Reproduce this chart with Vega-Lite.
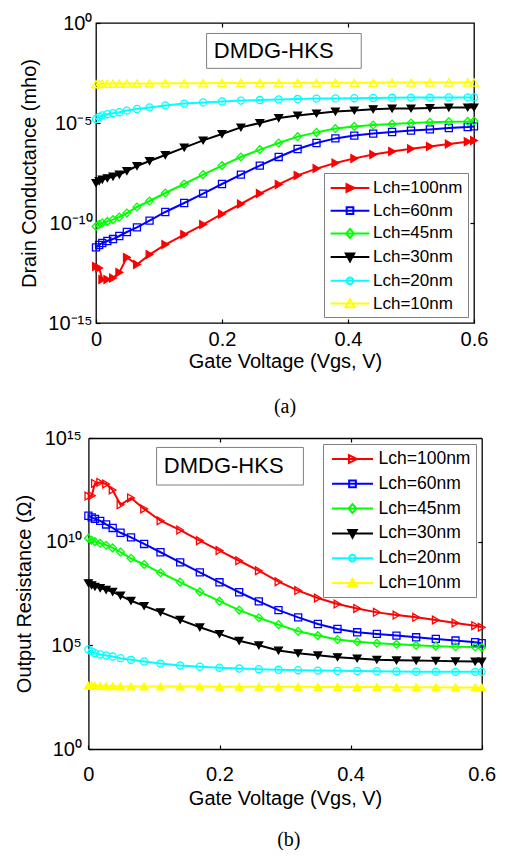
{
"$schema": "https://vega.github.io/schema/vega-lite/v6.json",
"background": "white",
"padding": {"left": 14, "top": 12, "right": 0, "bottom": 0},
"spacing": 10,
"columns": 1,
"align": "none",
"datasets": {
"boxes": [
{"p":"a","x1":0.1755,"x2":0.421,"y1":0.0054,"y2":0.30,"tx":0.187,"ty":0.0385,"label":"DMDG-HKS"},
{"p":"b","x1":0.104,"x2":0.328,"y1":5.4e12,"y2":3.5e14,"tx":0.115,"ty":4.5e13,"label":"DMDG-HKS"}
],
"curves": [
{"s":"Lch=100nm","x":0,"g":6.76e-13,"r":1.58e12},
{"s":"Lch=100nm","x":0.005,"g":5.62e-13,"r":1.66e12},
{"s":"Lch=100nm","x":0.01,"g":1.48e-13,"r":6.46e12},
{"s":"Lch=100nm","x":0.018,"g":1.48e-13,"r":7.24e12},
{"s":"Lch=100nm","x":0.027,"g":1.78e-13,"r":6.03e12},
{"s":"Lch=100nm","x":0.037,"g":3.39e-13,"r":3.09e12},
{"s":"Lch=100nm","x":0.049,"g":1.91e-12,"r":6.03e11},
{"s":"Lch=100nm","x":0.065,"g":8.32e-13,"r":1.29e12},
{"s":"Lch=100nm","x":0.085,"g":2.63e-12,"r":3.80e11},
{"s":"Lch=100nm","x":0.11,"g":8.32e-12,"r":1.02e11},
{"s":"Lch=100nm","x":0.14,"g":2.63e-11,"r":3.63e10},
{"s":"Lch=100nm","x":0.17,"g":8.32e-11,"r":1.12e10},
{"s":"Lch=100nm","x":0.2,"g":2.82e-10,"r":3.72e9},
{"s":"Lch=100nm","x":0.23,"g":8.91e-10,"r":1.20e9},
{"s":"Lch=100nm","x":0.26,"g":2.95e-9,"r":3.98e8},
{"s":"Lch=100nm","x":0.29,"g":8.51e-9,"r":1.17e8},
{"s":"Lch=100nm","x":0.32,"g":2.40e-8,"r":4.37e7},
{"s":"Lch=100nm","x":0.35,"g":5.25e-8,"r":1.91e7},
{"s":"Lch=100nm","x":0.38,"g":1e-7,"r":9.77e6},
{"s":"Lch=100nm","x":0.41,"g":1.70e-7,"r":6.03e6},
{"s":"Lch=100nm","x":0.44,"g":2.63e-7,"r":3.89e6},
{"s":"Lch=100nm","x":0.47,"g":3.80e-7,"r":2.88e6},
{"s":"Lch=100nm","x":0.5,"g":5.13e-7,"r":2.24e6},
{"s":"Lch=100nm","x":0.53,"g":6.76e-7,"r":1.66e6},
{"s":"Lch=100nm","x":0.56,"g":8.91e-7,"r":1.20e6},
{"s":"Lch=100nm","x":0.59,"g":1.17e-6,"r":8.91e5},
{"s":"Lch=100nm","x":0.6,"g":1.32e-6,"r":7.41e5},
{"s":"Lch=60nm","x":0,"g":6.03e-12,"r":1.78e11},
{"s":"Lch=60nm","x":0.005,"g":7.94e-12,"r":1.48e11},
{"s":"Lch=60nm","x":0.01,"g":1e-11,"r":1.26e11},
{"s":"Lch=60nm","x":0.018,"g":1.26e-11,"r":1.0e11},
{"s":"Lch=60nm","x":0.027,"g":1.58e-11,"r":6.76e10},
{"s":"Lch=60nm","x":0.037,"g":2.24e-11,"r":4.57e10},
{"s":"Lch=60nm","x":0.049,"g":3.55e-11,"r":2.69e10},
{"s":"Lch=60nm","x":0.065,"g":6.03e-11,"r":1.62e10},
{"s":"Lch=60nm","x":0.085,"g":1.32e-10,"r":7.76e9},
{"s":"Lch=60nm","x":0.11,"g":3.55e-10,"r":3.09e9},
{"s":"Lch=60nm","x":0.14,"g":1e-9,"r":1.0e9},
{"s":"Lch=60nm","x":0.17,"g":2.95e-9,"r":3.31e8},
{"s":"Lch=60nm","x":0.2,"g":8.91e-9,"r":1.10e8},
{"s":"Lch=60nm","x":0.23,"g":2.63e-8,"r":3.63e7},
{"s":"Lch=60nm","x":0.26,"g":7.41e-8,"r":1.32e7},
{"s":"Lch=60nm","x":0.29,"g":2.0e-7,"r":5.01e6},
{"s":"Lch=60nm","x":0.32,"g":5.01e-7,"r":2.24e6},
{"s":"Lch=60nm","x":0.35,"g":1e-6,"r":1.07e6},
{"s":"Lch=60nm","x":0.38,"g":1.70e-6,"r":6.17e5},
{"s":"Lch=60nm","x":0.41,"g":2.34e-6,"r":4.27e5},
{"s":"Lch=60nm","x":0.44,"g":2.95e-6,"r":3.55e5},
{"s":"Lch=60nm","x":0.47,"g":3.55e-6,"r":2.95e5},
{"s":"Lch=60nm","x":0.5,"g":4.17e-6,"r":2.45e5},
{"s":"Lch=60nm","x":0.53,"g":4.79e-6,"r":2.04e5},
{"s":"Lch=60nm","x":0.56,"g":5.62e-6,"r":1.70e5},
{"s":"Lch=60nm","x":0.59,"g":6.31e-6,"r":1.41e5},
{"s":"Lch=60nm","x":0.6,"g":6.76e-6,"r":1.26e5},
{"s":"Lch=45nm","x":0,"g":6.76e-11,"r":1.48e10},
{"s":"Lch=45nm","x":0.005,"g":8.51e-11,"r":1.17e10},
{"s":"Lch=45nm","x":0.01,"g":1e-10,"r":1e10},
{"s":"Lch=45nm","x":0.018,"g":1.20e-10,"r":8.32e9},
{"s":"Lch=45nm","x":0.027,"g":1.48e-10,"r":6.76e9},
{"s":"Lch=45nm","x":0.037,"g":2.0e-10,"r":5.01e9},
{"s":"Lch=45nm","x":0.049,"g":3.16e-10,"r":3.16e9},
{"s":"Lch=45nm","x":0.065,"g":6.31e-10,"r":1.58e9},
{"s":"Lch=45nm","x":0.085,"g":1.26e-9,"r":7.94e8},
{"s":"Lch=45nm","x":0.11,"g":3.16e-9,"r":3.16e8},
{"s":"Lch=45nm","x":0.14,"g":8.91e-9,"r":1.12e8},
{"s":"Lch=45nm","x":0.17,"g":2.63e-8,"r":3.80e7},
{"s":"Lch=45nm","x":0.2,"g":7.41e-8,"r":1.35e7},
{"s":"Lch=45nm","x":0.23,"g":2.0e-7,"r":5.01e6},
{"s":"Lch=45nm","x":0.26,"g":4.68e-7,"r":2.14e6},
{"s":"Lch=45nm","x":0.29,"g":1e-6,"r":1e6},
{"s":"Lch=45nm","x":0.32,"g":2.09e-6,"r":4.79e5},
{"s":"Lch=45nm","x":0.35,"g":3.39e-6,"r":2.95e5},
{"s":"Lch=45nm","x":0.38,"g":5.25e-6,"r":1.91e5},
{"s":"Lch=45nm","x":0.41,"g":6.76e-6,"r":1.48e5},
{"s":"Lch=45nm","x":0.44,"g":7.94e-6,"r":1.26e5},
{"s":"Lch=45nm","x":0.47,"g":8.91e-6,"r":1.12e5},
{"s":"Lch=45nm","x":0.5,"g":1e-5,"r":1e5},
{"s":"Lch=45nm","x":0.53,"g":1.10e-5,"r":9.12e4},
{"s":"Lch=45nm","x":0.56,"g":1.17e-5,"r":8.51e4},
{"s":"Lch=45nm","x":0.59,"g":1.20e-5,"r":8.32e4},
{"s":"Lch=45nm","x":0.6,"g":1.26e-5,"r":7.94e4},
{"s":"Lch=30nm","x":0,"g":1e-8,"r":1e8},
{"s":"Lch=30nm","x":0.005,"g":1.26e-8,"r":7.94e7},
{"s":"Lch=30nm","x":0.01,"g":1.48e-8,"r":6.76e7},
{"s":"Lch=30nm","x":0.018,"g":1.74e-8,"r":5.75e7},
{"s":"Lch=30nm","x":0.027,"g":2.09e-8,"r":4.79e7},
{"s":"Lch=30nm","x":0.037,"g":2.63e-8,"r":3.80e7},
{"s":"Lch=30nm","x":0.049,"g":3.98e-8,"r":2.51e7},
{"s":"Lch=30nm","x":0.065,"g":7.08e-8,"r":1.41e7},
{"s":"Lch=30nm","x":0.085,"g":1.26e-7,"r":7.94e6},
{"s":"Lch=30nm","x":0.11,"g":2.51e-7,"r":3.98e6},
{"s":"Lch=30nm","x":0.14,"g":5.89e-7,"r":1.70e6},
{"s":"Lch=30nm","x":0.17,"g":1.35e-6,"r":7.41e5},
{"s":"Lch=30nm","x":0.2,"g":2.82e-6,"r":3.55e5},
{"s":"Lch=30nm","x":0.23,"g":6.03e-6,"r":1.66e5},
{"s":"Lch=30nm","x":0.26,"g":1e-5,"r":1e5},
{"s":"Lch=30nm","x":0.29,"g":1.78e-5,"r":5.62e4},
{"s":"Lch=30nm","x":0.32,"g":2.40e-5,"r":4.17e4},
{"s":"Lch=30nm","x":0.35,"g":3.02e-5,"r":3.31e4},
{"s":"Lch=30nm","x":0.38,"g":3.72e-5,"r":2.69e4},
{"s":"Lch=30nm","x":0.41,"g":4.27e-5,"r":2.34e4},
{"s":"Lch=30nm","x":0.44,"g":4.90e-5,"r":2.04e4},
{"s":"Lch=30nm","x":0.47,"g":5.25e-5,"r":1.91e4},
{"s":"Lch=30nm","x":0.5,"g":5.37e-5,"r":1.86e4},
{"s":"Lch=30nm","x":0.53,"g":5.62e-5,"r":1.78e4},
{"s":"Lch=30nm","x":0.56,"g":5.89e-5,"r":1.70e4},
{"s":"Lch=30nm","x":0.59,"g":6.03e-5,"r":1.66e4},
{"s":"Lch=30nm","x":0.6,"g":6.03e-5,"r":1.66e4},
{"s":"Lch=20nm","x":0,"g":1.58e-5,"r":6.31e4},
{"s":"Lch=20nm","x":0.005,"g":2.0e-5,"r":5.01e4},
{"s":"Lch=20nm","x":0.01,"g":2.40e-5,"r":4.17e4},
{"s":"Lch=20nm","x":0.018,"g":2.75e-5,"r":3.63e4},
{"s":"Lch=20nm","x":0.027,"g":3.09e-5,"r":3.24e4},
{"s":"Lch=20nm","x":0.037,"g":3.47e-5,"r":2.88e4},
{"s":"Lch=20nm","x":0.049,"g":4.17e-5,"r":2.40e4},
{"s":"Lch=20nm","x":0.065,"g":5.01e-5,"r":2.0e4},
{"s":"Lch=20nm","x":0.085,"g":6.03e-5,"r":1.66e4},
{"s":"Lch=20nm","x":0.11,"g":7.59e-5,"r":1.32e4},
{"s":"Lch=20nm","x":0.14,"g":9.33e-5,"r":1.07e4},
{"s":"Lch=20nm","x":0.17,"g":1.07e-4,"r":9.33e3},
{"s":"Lch=20nm","x":0.2,"g":1.20e-4,"r":8.32e3},
{"s":"Lch=20nm","x":0.23,"g":1.32e-4,"r":7.59e3},
{"s":"Lch=20nm","x":0.26,"g":1.41e-4,"r":7.08e3},
{"s":"Lch=20nm","x":0.29,"g":1.51e-4,"r":6.61e3},
{"s":"Lch=20nm","x":0.32,"g":1.58e-4,"r":6.31e3},
{"s":"Lch=20nm","x":0.35,"g":1.66e-4,"r":6.03e3},
{"s":"Lch=20nm","x":0.38,"g":1.70e-4,"r":5.89e3},
{"s":"Lch=20nm","x":0.41,"g":1.74e-4,"r":5.75e3},
{"s":"Lch=20nm","x":0.44,"g":1.78e-4,"r":5.62e3},
{"s":"Lch=20nm","x":0.47,"g":1.82e-4,"r":5.50e3},
{"s":"Lch=20nm","x":0.5,"g":1.86e-4,"r":5.37e3},
{"s":"Lch=20nm","x":0.53,"g":1.86e-4,"r":5.37e3},
{"s":"Lch=20nm","x":0.56,"g":1.91e-4,"r":5.25e3},
{"s":"Lch=20nm","x":0.59,"g":1.91e-4,"r":5.25e3},
{"s":"Lch=20nm","x":0.6,"g":1.91e-4,"r":5.25e3},
{"s":"Lch=10nm","x":0,"g":8.71e-4,"r":1148},
{"s":"Lch=10nm","x":0.005,"g":8.91e-4,"r":1122},
{"s":"Lch=10nm","x":0.01,"g":9.12e-4,"r":1096},
{"s":"Lch=10nm","x":0.018,"g":9.12e-4,"r":1096},
{"s":"Lch=10nm","x":0.027,"g":9.33e-4,"r":1072},
{"s":"Lch=10nm","x":0.037,"g":9.33e-4,"r":1072},
{"s":"Lch=10nm","x":0.049,"g":9.55e-4,"r":1047},
{"s":"Lch=10nm","x":0.065,"g":9.55e-4,"r":1047},
{"s":"Lch=10nm","x":0.085,"g":9.55e-4,"r":1047},
{"s":"Lch=10nm","x":0.11,"g":9.77e-4,"r":1023},
{"s":"Lch=10nm","x":0.14,"g":9.77e-4,"r":1023},
{"s":"Lch=10nm","x":0.17,"g":9.77e-4,"r":1023},
{"s":"Lch=10nm","x":0.2,"g":1e-3,"r":1000},
{"s":"Lch=10nm","x":0.23,"g":1e-3,"r":1000},
{"s":"Lch=10nm","x":0.26,"g":1e-3,"r":1000},
{"s":"Lch=10nm","x":0.29,"g":1e-3,"r":1000},
{"s":"Lch=10nm","x":0.32,"g":1e-3,"r":1000},
{"s":"Lch=10nm","x":0.35,"g":1.02e-3,"r":977},
{"s":"Lch=10nm","x":0.38,"g":1.02e-3,"r":977},
{"s":"Lch=10nm","x":0.41,"g":1.02e-3,"r":977},
{"s":"Lch=10nm","x":0.44,"g":1.02e-3,"r":977},
{"s":"Lch=10nm","x":0.47,"g":1.05e-3,"r":955},
{"s":"Lch=10nm","x":0.5,"g":1.05e-3,"r":955},
{"s":"Lch=10nm","x":0.53,"g":1.05e-3,"r":955},
{"s":"Lch=10nm","x":0.56,"g":1.07e-3,"r":933},
{"s":"Lch=10nm","x":0.59,"g":1.07e-3,"r":933},
{"s":"Lch=10nm","x":0.6,"g":1.07e-3,"r":933}
]
},
"resolve": {"scale": {"x": "independent", "y": "independent", "color": "independent"}, "legend": {"color": "independent"}},
"concat": [
{
"width": 378, "height": 300,
"title": {"text": "(a)", "orient": "bottom", "font": "Liberation Serif", "fontSize": 20, "fontWeight": "normal", "color": "black", "offset": 26},
"resolve": {"axis": {"x": "independent", "y": "independent"}},
"layer": [
{"data": {"name": "boxes"}, "transform": [{"filter": "datum.p == 'a'"}],
 "mark": {"type": "rect", "fill": "white", "stroke": "#808080", "strokeWidth": 1},
 "encoding": {
  "x": {"field": "x1", "type": "quantitative", "scale": {"domain": [0, 0.6], "nice": false, "zero": false}, "axis": null},
  "x2": {"field": "x2"},
  "y": {"field": "y1", "type": "quantitative", "scale": {"type": "log", "domain": [1e-15, 1], "nice": false}, "axis": null},
  "y2": {"field": "y2"}}},
{"data": {"name": "boxes"}, "transform": [{"filter": "datum.p == 'a'"}],
 "mark": {"type": "text", "align": "left", "baseline": "middle", "font": "Liberation Sans", "fontSize": 22, "color": "black"},
 "encoding": {
  "x": {"field": "tx", "type": "quantitative", "scale": {"domain": [0, 0.6], "nice": false, "zero": false}, "axis": null},
  "y": {"field": "ty", "type": "quantitative", "scale": {"type": "log", "domain": [1e-15, 1], "nice": false}, "axis": null},
  "text": {"field": "label"}}},
{"data": {"name": "curves"},
 "mark": {"type": "line", "strokeWidth": 2},
 "encoding": {
  "x": {"field": "x", "type": "quantitative", "scale": {"domain": [0, 0.6], "nice": false, "zero": false},
        "axis": {"title": "Gate Voltage (Vgs, V)", "values": [0, 0.2, 0.4, 0.6], "format": ".1~f", "labelFlush": false, "domain": false, "tickSize": -4, "labelPadding": 10, "titlePadding": 2}},
  "y": {"field": "g", "type": "quantitative", "scale": {"type": "log", "domain": [1e-15, 1], "nice": false},
        "axis": {"title": "Drain Conductance (mho)", "values": [1e-15, 1e-10, 1e-5, 1], "labelExpr": "datum.value >= 0.5 ? '10⁰' : datum.value >= 1e-6 ? '10⁻⁵' : datum.value >= 1e-11 ? '10⁻¹⁰' : '10⁻¹⁵'", "domain": false, "tickSize": -4, "labelPadding": 8, "titlePadding": 8}},
  "color": {"field": "s", "type": "nominal",
   "scale": {"domain": ["Lch=100nm", "Lch=60nm", "Lch=45nm", "Lch=30nm", "Lch=20nm", "Lch=10nm"], "range": ["#ff0000", "#0000ff", "#00ff00", "#000000", "#00ffff", "#ffff00"]},
   "legend": {"title": null, "orient": "bottom-right", "offset": 6, "padding": 5, "strokeColor": "#808080", "fillColor": "white",
     "labelFont": "Liberation Sans", "labelFontSize": 17, "labelColor": "black", "symbolSize": 324, "symbolStrokeWidth": 2, "symbolOffset": 11, "labelOffset": 13, "rowPadding": 4.7,
     "encode": {"symbols": {"update": {
       "shape": {"signal": "datum.value === 'Lch=100nm' ? 'M-2.15,0L2.15,0M-0.39,-0.44L0.5,0L-0.39,0.44Z' : datum.value === 'Lch=60nm' ? 'M-2.15,0L2.15,0M-0.37,-0.37L0.37,-0.37L0.37,0.37L-0.37,0.37Z' : datum.value === 'Lch=45nm' ? 'M-2.15,0L2.15,0M0,-0.5L0.44,0L0,0.5L-0.44,0Z' : datum.value === 'Lch=30nm' ? 'M-2.15,0L2.15,0M-0.47,-0.39L0.47,-0.39L0,0.47Z' : datum.value === 'Lch=20nm' ? 'M-2.15,0L2.15,0M0.37,0A0.37,0.37,0,1,1,-0.37,0A0.37,0.37,0,1,1,0.37,0Z' : 'M-2.15,0L2.15,0M-0.5,0.42L0.5,0.42L0,-0.47Z'"},
       "fill": {"signal": "datum.value === 'Lch=100nm' ? '#ff0000' : datum.value === 'Lch=30nm' ? '#000000' : 'transparent'"},
       "stroke": {"signal": "datum.value === 'Lch=100nm' ? '#ff0000' : datum.value === 'Lch=60nm' ? '#0000ff' : datum.value === 'Lch=45nm' ? '#00ff00' : datum.value === 'Lch=30nm' ? '#000000' : datum.value === 'Lch=20nm' ? '#00ffff' : '#ffff00'"},
       "opacity": {"value": 1}}}}}}}},
{"data": {"name": "curves"}, "transform": [{"filter": "datum.s == 'Lch=100nm'"}],
 "mark": {"type": "point", "shape": "triangle-right", "size": 60, "strokeWidth": 1.3, "stroke": "#ff0000", "fill": "#ff0000", "opacity": 1},
 "encoding": {"x": {"field": "x", "type": "quantitative", "axis": null}, "y": {"field": "g", "type": "quantitative", "axis": null}}},
{"data": {"name": "curves"}, "transform": [{"filter": "datum.s == 'Lch=60nm'"}],
 "mark": {"type": "point", "shape": "square", "size": 50, "strokeWidth": 1.3, "stroke": "#0000ff", "fill": "transparent", "opacity": 1},
 "encoding": {"x": {"field": "x", "type": "quantitative", "axis": null}, "y": {"field": "g", "type": "quantitative", "axis": null}}},
{"data": {"name": "curves"}, "transform": [{"filter": "datum.s == 'Lch=45nm'"}],
 "mark": {"type": "point", "shape": "diamond", "size": 60, "strokeWidth": 1.3, "stroke": "#00ff00", "fill": "transparent", "opacity": 1},
 "encoding": {"x": {"field": "x", "type": "quantitative", "axis": null}, "y": {"field": "g", "type": "quantitative", "axis": null}}},
{"data": {"name": "curves"}, "transform": [{"filter": "datum.s == 'Lch=30nm'"}],
 "mark": {"type": "point", "shape": "triangle-down", "size": 60, "strokeWidth": 1.3, "stroke": "#000000", "fill": "#000000", "opacity": 1},
 "encoding": {"x": {"field": "x", "type": "quantitative", "axis": null}, "y": {"field": "g", "type": "quantitative", "axis": null}}},
{"data": {"name": "curves"}, "transform": [{"filter": "datum.s == 'Lch=20nm'"}],
 "mark": {"type": "point", "shape": "circle", "size": 50, "strokeWidth": 1.3, "stroke": "#00ffff", "fill": "transparent", "opacity": 1},
 "encoding": {"x": {"field": "x", "type": "quantitative", "axis": null}, "y": {"field": "g", "type": "quantitative", "axis": null}}},
{"data": {"name": "curves"}, "transform": [{"filter": "datum.s == 'Lch=10nm'"}],
 "mark": {"type": "point", "shape": "triangle-up", "size": 70, "strokeWidth": 1.3, "stroke": "#ffff00", "fill": "transparent", "opacity": 1},
 "encoding": {"x": {"field": "x", "type": "quantitative", "axis": null}, "y": {"field": "g", "type": "quantitative", "axis": null}}},
{"data": {"name": "curves"},
 "mark": {"type": "point", "opacity": 0},
 "encoding": {
  "x": {"field": "x", "type": "quantitative",
        "axis": {"orient": "top", "labels": false, "title": null, "domain": false, "tickSize": -4, "values": [0.2, 0.4]}},
  "y": {"field": "g", "type": "quantitative",
        "axis": {"orient": "right", "labels": false, "title": null, "domain": false, "tickSize": -4, "values": [1e-10, 1e-5]}}}}
]
},
{
"width": 385.7, "height": 311,
"view": {"stroke": null},
"title": {"text": "(b)", "orient": "bottom", "font": "Liberation Serif", "fontSize": 20, "fontWeight": "normal", "color": "black", "offset": 22},
"resolve": {"axis": {"x": "independent", "y": "independent"}},
"layer": [
{"data": {"name": "boxes"}, "transform": [{"filter": "datum.p == 'b'"}],
 "mark": {"type": "rect", "fill": "white", "stroke": "#808080", "strokeWidth": 1},
 "encoding": {
  "x": {"field": "x1", "type": "quantitative", "scale": {"domain": [0, 0.6], "nice": false, "zero": false, "range": [-7.6, 385.7]}, "axis": null},
  "x2": {"field": "x2"},
  "y": {"field": "y1", "type": "quantitative", "scale": {"type": "log", "domain": [1, 1e15], "nice": false}, "axis": null},
  "y2": {"field": "y2"}}},
{"data": {"name": "boxes"}, "transform": [{"filter": "datum.p == 'b'"}],
 "mark": {"type": "text", "align": "left", "baseline": "middle", "font": "Liberation Sans", "fontSize": 22, "color": "black"},
 "encoding": {
  "x": {"field": "tx", "type": "quantitative", "scale": {"domain": [0, 0.6], "nice": false, "zero": false, "range": [-7.6, 385.7]}, "axis": null},
  "y": {"field": "ty", "type": "quantitative", "scale": {"type": "log", "domain": [1, 1e15], "nice": false}, "axis": null},
  "text": {"field": "label"}}},
{"data": {"name": "curves"},
 "mark": {"type": "line", "strokeWidth": 2},
 "encoding": {
  "x": {"field": "x", "type": "quantitative", "scale": {"domain": [0, 0.6], "nice": false, "zero": false, "range": [-7.6, 385.7]},
        "axis": {"title": "Gate Voltage (Vgs, V)", "values": [0, 0.2, 0.4, 0.6], "format": ".1~f", "labelFlush": false, "domain": true, "domainColor": "black", "domainWidth": 1.3, "tickSize": -4, "labelPadding": 19, "titlePadding": 4}},
  "y": {"field": "r", "type": "quantitative", "scale": {"type": "log", "domain": [1, 1e15], "nice": false},
        "axis": {"title": "Output Resistance (Ω)", "values": [1, 1e5, 1e10, 1e15], "labelExpr": "datum.value >= 1e14 ? '10¹⁵' : datum.value >= 1e9 ? '10¹⁰' : datum.value >= 1e4 ? '10⁵' : '10⁰'", "offset": 7.6, "domain": true, "domainColor": "black", "domainWidth": 1.3, "tickSize": -4, "labelPadding": 11, "titlePadding": 10}},
  "color": {"field": "s", "type": "nominal",
   "scale": {"domain": ["Lch=100nm", "Lch=60nm", "Lch=45nm", "Lch=30nm", "Lch=20nm", "Lch=10nm"], "range": ["#ff0000", "#0000ff", "#00ff00", "#000000", "#00ffff", "#ffff00"]},
   "legend": {"title": null, "orient": "top-right", "offset": 5.5, "padding": 5, "strokeColor": "#808080", "fillColor": "white",
     "labelFont": "Liberation Sans", "labelFontSize": 17.5, "labelColor": "black", "symbolSize": 324, "symbolStrokeWidth": 2, "symbolOffset": 14.5, "labelOffset": 16, "rowPadding": 5.8,
     "encode": {
      "labels": {"update": {"text": {"signal": "datum.label + '\u00a0\u00a0'"}}},
      "symbols": {"update": {
       "shape": {"signal": "datum.value === 'Lch=100nm' ? 'M-2.28,0L2.28,0M-0.39,-0.44L0.5,0L-0.39,0.44Z' : datum.value === 'Lch=60nm' ? 'M-2.28,0L2.28,0M-0.37,-0.37L0.37,-0.37L0.37,0.37L-0.37,0.37Z' : datum.value === 'Lch=45nm' ? 'M-2.28,0L2.28,0M0,-0.5L0.44,0L0,0.5L-0.44,0Z' : datum.value === 'Lch=30nm' ? 'M-2.28,0L2.28,0M-0.47,-0.39L0.47,-0.39L0,0.47Z' : datum.value === 'Lch=20nm' ? 'M-2.28,0L2.28,0M0.37,0A0.37,0.37,0,1,1,-0.37,0A0.37,0.37,0,1,1,0.37,0Z' : 'M-2.28,0L2.28,0M-0.5,0.42L0.5,0.42L0,-0.47Z'"},
       "fill": {"signal": "datum.value === 'Lch=30nm' ? '#000000' : datum.value === 'Lch=10nm' ? '#ffff00' : 'transparent'"},
       "stroke": {"signal": "datum.value === 'Lch=100nm' ? '#ff0000' : datum.value === 'Lch=60nm' ? '#0000ff' : datum.value === 'Lch=45nm' ? '#00ff00' : datum.value === 'Lch=30nm' ? '#000000' : datum.value === 'Lch=20nm' ? '#00ffff' : '#ffff00'"},
       "opacity": {"value": 1}}}}}}}},
{"data": {"name": "curves"}, "transform": [{"filter": "datum.s == 'Lch=100nm'"}],
 "mark": {"type": "point", "shape": "triangle-right", "size": 60, "strokeWidth": 1.3, "stroke": "#ff0000", "fill": "transparent", "opacity": 1},
 "encoding": {"x": {"field": "x", "type": "quantitative", "axis": null}, "y": {"field": "r", "type": "quantitative", "axis": null}}},
{"data": {"name": "curves"}, "transform": [{"filter": "datum.s == 'Lch=60nm'"}],
 "mark": {"type": "point", "shape": "square", "size": 50, "strokeWidth": 1.3, "stroke": "#0000ff", "fill": "transparent", "opacity": 1},
 "encoding": {"x": {"field": "x", "type": "quantitative", "axis": null}, "y": {"field": "r", "type": "quantitative", "axis": null}}},
{"data": {"name": "curves"}, "transform": [{"filter": "datum.s == 'Lch=45nm'"}],
 "mark": {"type": "point", "shape": "diamond", "size": 60, "strokeWidth": 1.3, "stroke": "#00ff00", "fill": "transparent", "opacity": 1},
 "encoding": {"x": {"field": "x", "type": "quantitative", "axis": null}, "y": {"field": "r", "type": "quantitative", "axis": null}}},
{"data": {"name": "curves"}, "transform": [{"filter": "datum.s == 'Lch=30nm'"}],
 "mark": {"type": "point", "shape": "triangle-down", "size": 60, "strokeWidth": 1.3, "stroke": "#000000", "fill": "#000000", "opacity": 1},
 "encoding": {"x": {"field": "x", "type": "quantitative", "axis": null}, "y": {"field": "r", "type": "quantitative", "axis": null}}},
{"data": {"name": "curves"}, "transform": [{"filter": "datum.s == 'Lch=20nm'"}],
 "mark": {"type": "point", "shape": "circle", "size": 50, "strokeWidth": 1.3, "stroke": "#00ffff", "fill": "transparent", "opacity": 1},
 "encoding": {"x": {"field": "x", "type": "quantitative", "axis": null}, "y": {"field": "r", "type": "quantitative", "axis": null}}},
{"data": {"name": "curves"}, "transform": [{"filter": "datum.s == 'Lch=10nm'"}],
 "mark": {"type": "point", "shape": "triangle-up", "size": 60, "strokeWidth": 1.3, "stroke": "#ffff00", "fill": "#ffff00", "opacity": 1},
 "encoding": {"x": {"field": "x", "type": "quantitative", "axis": null}, "y": {"field": "r", "type": "quantitative", "axis": null}}},
{"data": {"name": "curves"},
 "mark": {"type": "point", "opacity": 0},
 "encoding": {
  "x": {"field": "x", "type": "quantitative",
        "axis": {"orient": "top", "labels": false, "title": null, "domain": true, "domainColor": "black", "domainWidth": 1.3, "tickSize": -4, "values": [0.2, 0.4]}},
  "y": {"field": "r", "type": "quantitative",
        "axis": {"orient": "right", "labels": false, "title": null, "domain": true, "domainColor": "black", "domainWidth": 1.3, "tickSize": -4, "values": [1e5, 1e10]}}}}
]
}
],
"config": {
 "font": "Liberation Sans",
 "view": {"stroke": "black", "strokeWidth": 1.3},
 "axis": {"labelFont": "Liberation Sans", "labelFontSize": 20, "titleFont": "Liberation Sans", "titleFontSize": 20, "titleFontWeight": "normal", "labelColor": "black", "titleColor": "black", "tickColor": "black", "tickWidth": 1.2, "grid": false, "labelOverlap": false}
}
}
